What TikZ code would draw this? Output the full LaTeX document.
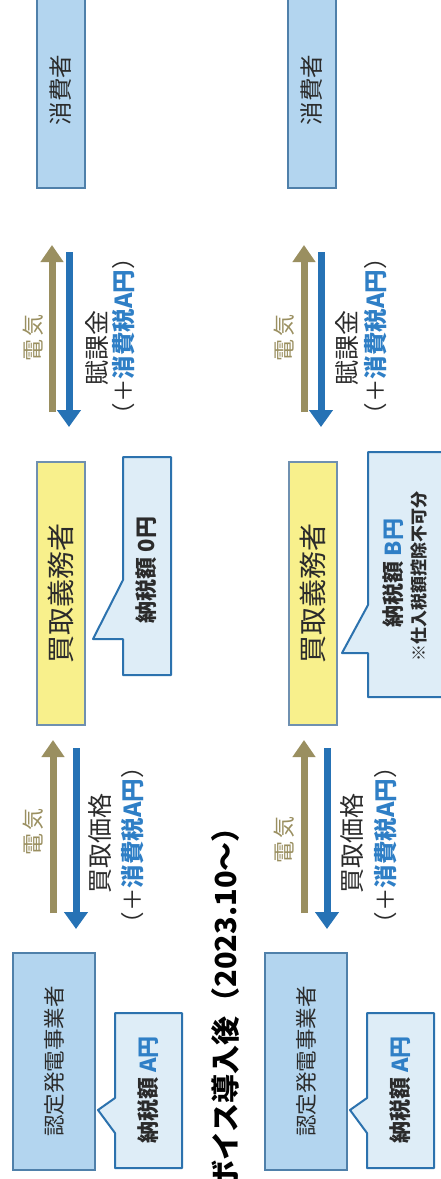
\documentclass[tikz,border=0pt]{standalone}
\usepackage{fontspec}
\setmainfont{Noto Sans CJK JP}
\usetikzlibrary{arrows.meta}
\definecolor{boxblue}{HTML}{B3D5EF}
\definecolor{boxedge}{HTML}{4F80AA}
\definecolor{yel}{HTML}{F8F08C}
\definecolor{yeledge}{HTML}{6F90B0}
\definecolor{calfill}{HTML}{DEEDF7}
\definecolor{caledge}{HTML}{2C72AE}
\definecolor{olive}{HTML}{9A8F60}
\definecolor{arrblue}{HTML}{2672B5}
\definecolor{txtblue}{HTML}{2F7FC6}
\definecolor{txt}{HTML}{2B2B2B}
\newcommand{\denki}{電\kern3pt 気}
\begin{document}
\begin{tikzpicture}[x=1pt,y=-1pt,
  party/.style={draw=boxedge, fill=boxblue, line width=1.2pt, rotate=90, inner sep=0pt,
    font=\fontsize{21.5}{25}\selectfont, text=txt},
  buyer/.style={draw=yeledge, fill=yel, line width=1.2pt, rotate=90, inner sep=0pt,
    font=\fontsize{28}{30}\selectfont, text=txt},
  callout/.style={draw=caledge, fill=calfill, line width=2pt, line join=round},
  ctext/.style={rotate=90, inner sep=0pt, font=\fontsize{22}{26}\selectfont\bfseries, text=txt},
  csmall/.style={rotate=90, inner sep=0pt, font=\fontsize{17}{20}\selectfont\bfseries, text=txt},
  lbl/.style={rotate=90, inner sep=0pt, font=\fontsize{22}{26}\selectfont, text=txt},
  plus/.style={rotate=90, inner sep=0pt, font=\fontsize{23.5}{26}\selectfont, text=txt},
  big/.style={rotate=90, inner sep=0pt, font=\fontsize{25}{28}\selectfont, text=txt},
  elec/.style={draw=olive, line width=7pt, -{Triangle[width=22pt,length=17pt]}},
  money/.style={draw=arrblue, line width=7pt, -{Triangle[width=23pt,length=17pt]}},
  title/.style={rotate=90, inner sep=0pt, font=\fontsize{29}{32}\selectfont\bfseries, text=black}
]
\useasboundingbox (0,0) rectangle (441,1179);
\fill[white] (0,0) rectangle (441,1179);

% ---------------- column A ----------------
\node[party, minimum width=196pt, minimum height=48pt, font=\fontsize{23.5}{26}\selectfont] (consA) at (61,90) {消費者};
\node[buyer, minimum width=263pt, minimum height=48pt] (buyA) at (61,593.5) {買取義務者};
\node[party, minimum width=217pt, minimum height=82pt] (genA) at (54,1061.5) {認定発電事業者};

% arrows pair 1
\coordinate (oA1s) at (52,412); \coordinate (oA1e) at (52,245);
\coordinate (bA1s) at (69,252); \coordinate (bA1e) at (69,427);
\draw[elec] (oA1s) -- (oA1e);
\draw[money] (bA1s) -- (bA1e);
\node[lbl, text=olive] (eA1) at (33,338) {\denki};
\node[big] (fA1) at (97,348) {賦課金};
\node[plus] (tA1) at (124,336) {（＋\textcolor{txtblue}{\bfseries 消費税A円}）};

% arrows pair 2
\coordinate (oA2s) at (53,913); \coordinate (oA2e) at (53,740);
\coordinate (bA2s) at (76,748); \coordinate (bA2e) at (76,929);
\draw[elec] (oA2s) -- (oA2e);
\draw[money] (bA2s) -- (bA2e);
\node[lbl, text=olive] (eA2) at (33,832) {\denki};
\node[big] (pA2) at (100,843) {買取価格};
\node[plus] (tA2) at (133,845) {（＋\textcolor{txtblue}{\bfseries 消費税A円}）};

% callouts
\draw[callout] (123,457) -- (171,457) -- (171,675) -- (123,675) -- (123,639) -- (93,639) -- (123,580) -- cycle;
\node[ctext] (taxA1) at (146,570) {納税額 0円};
\draw[callout] (115,1013) -- (182,1013) -- (182,1168) -- (115,1168) -- (115,1133) -- (98,1110) -- (115,1098) -- cycle;
\node[ctext] (taxA2) at (148,1090) {納税額 \textcolor{txtblue}{A円}};

% ---------------- column B ----------------
\node[party, minimum width=196pt, minimum height=48pt, font=\fontsize{23.5}{26}\selectfont] (consB) at (312,90) {消費者};
\node[buyer, minimum width=263pt, minimum height=48pt] (buyB) at (313,593.5) {買取義務者};
\node[party, minimum width=217pt, minimum height=82pt] (genB) at (306,1061.5) {認定発電事業者};

% arrows pair 1
\coordinate (oB1s) at (304,412); \coordinate (oB1e) at (304,245);
\coordinate (bB1s) at (321,252); \coordinate (bB1e) at (321,427);
\draw[elec] (oB1s) -- (oB1e);
\draw[money] (bB1s) -- (bB1e);
\node[lbl, text=olive] (eB1) at (284,338) {\denki};
\node[big] (fB1) at (347,348) {賦課金};
\node[plus] (tB1) at (376,336) {（＋\textcolor{txtblue}{\bfseries 消費税A円}）};

% arrows pair 2
\coordinate (oB2s) at (304,913); \coordinate (oB2e) at (304,740);
\coordinate (bB2s) at (327,748); \coordinate (bB2e) at (327,929);
\draw[elec] (oB2s) -- (oB2e);
\draw[money] (bB2s) -- (bB2e);
\node[lbl, text=olive] (eB2) at (284,840) {\denki};
\node[big] (pB2) at (352,843) {買取価格};
\node[plus] (tB2) at (386,845) {（＋\textcolor{txtblue}{\bfseries 消費税A円}）};

% callouts
\draw[callout] (368,452) -- (452,452) -- (452,697) -- (368,697) -- (368,653) -- (342,653) -- (368,605) -- cycle;
\node[ctext] (taxB1) at (393,573) {納税額 \textcolor{txtblue}{B円}};
\node[csmall] (noteB1) at (419,576) {※仕入税額控除不可分};
\draw[callout] (367,1013) -- (434,1013) -- (434,1168) -- (367,1168) -- (367,1133) -- (350,1110) -- (367,1098) -- cycle;
\node[ctext] (taxB2) at (400,1090) {納税額 \textcolor{txtblue}{A円}};

% ---------------- title ----------------
\node[title, anchor=east] (ttl) at (225,813) {ボイス導入後（2023.10～）};
\end{tikzpicture}
\end{document}
